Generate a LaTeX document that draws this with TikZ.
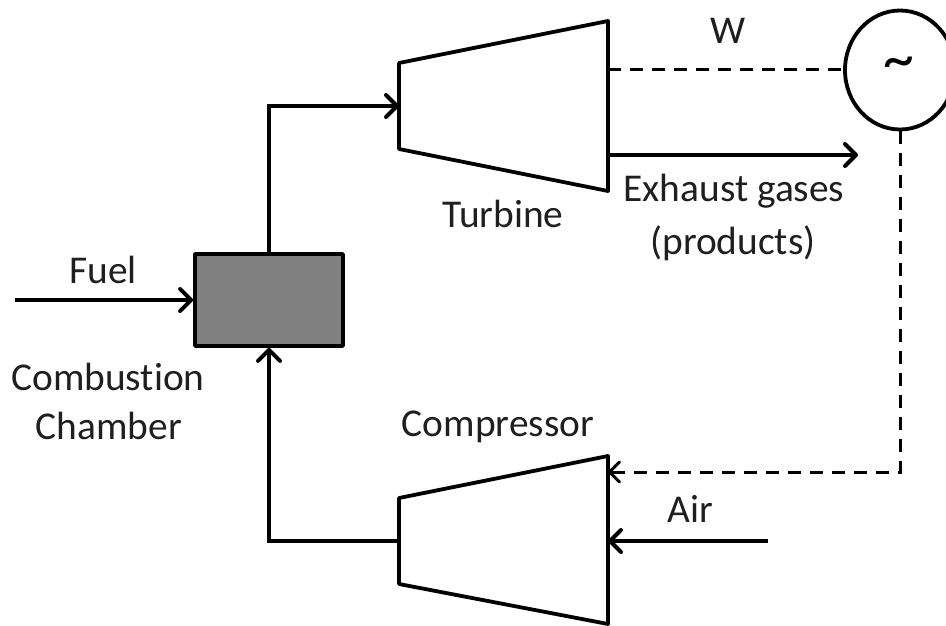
\documentclass[tikz,border=0pt]{standalone}
\usepackage{fontspec}
\setmainfont[RawFeature=-liga]{Carlito}
\usetikzlibrary{arrows.meta,shapes.geometric}
\begin{document}
\begin{tikzpicture}[x=1pt,y=-1pt,
  flow/.style={draw=black,line width=3.8pt,-{Straight Barb[length=11pt,width=22pt,line width=4pt,round]}},
  dashline/.style={draw=black,line width=3pt,dash pattern=on 13pt off 9pt},
  dasharrow/.style={dashline,-{Straight Barb[length=10pt,width=20pt,line width=3pt,round]}},
  shell/.style={draw=black,line width=3.8pt,fill=white,line join=round},
  lbl/.style={font=\fontsize{39.4}{46}\selectfont,text=black!88,inner sep=0pt,align=center}]
\useasboundingbox (0,0) rectangle (946,626);
\clip (0,0) rectangle (946,626);
\coordinate (TA) at (399,63); \coordinate (TB) at (608,21); \coordinate (TC) at (608,191); \coordinate (TD) at (399,149);
\coordinate (CA) at (399,498); \coordinate (CB) at (608,456); \coordinate (CC) at (608,624); \coordinate (CD) at (399,584);
\draw[shell] (TA) -- (TB) -- (TC) -- (TD) -- cycle;
\draw[shell] (CA) -- (CB) -- (CC) -- (CD) -- cycle;
\node[draw=black,line width=3.8pt,fill=black!50,minimum width=148pt,minimum height=92pt,inner sep=0pt,line join=round] (cc) at (269,300) {};
\node[draw=black,line width=3.8pt,ellipse,minimum width=110pt,minimum height=119pt,inner sep=0pt] (gen) at (900,70) {};
\node[font=\fontsize{62}{62}\selectfont,inner sep=0pt] (til) at (899,68) {\char"007E};
\coordinate (fs) at (15,300);
\coordinate (ex) at (858,155);
\coordinate (ts) at (608,155);
\coordinate (ti) at (399,106);
\coordinate (co) at (399,541);
\coordinate (ai) at (768,541);
\coordinate (cin) at (608,541);
\coordinate (cd) at (608,472);
\coordinate (tw) at (608,70);
\draw[flow] (fs) -- (cc.west);
\draw[flow] (cc.north) -- (269,106) -- (ti);
\draw[flow] (co) -- (269,541) -- (cc.south);
\draw[flow] (ts) -- (ex);
\draw[flow] (ai) -- (cin);
\draw[dashline] (tw) -- (gen.west |- tw);
\draw[dasharrow] (gen.south) -- (gen.south |- cd) -- (cd);
\node[lbl] (lw) at (728,31) {W};
\node[lbl] (lf) at (103,270) {Fuel};
\node[lbl] (lt) at (503,214) {Turbine};
\node[lbl] at (734,191) {Exhaust gases};
\node[lbl] at (733,243) {(products)};
\node[lbl] at (108,377) {Combustion};
\node[lbl] at (109,426) {Chamber};
\node[lbl] at (498,427) {Compressor};
\node[lbl] at (690,509) {Air};
\end{tikzpicture}
\end{document}
